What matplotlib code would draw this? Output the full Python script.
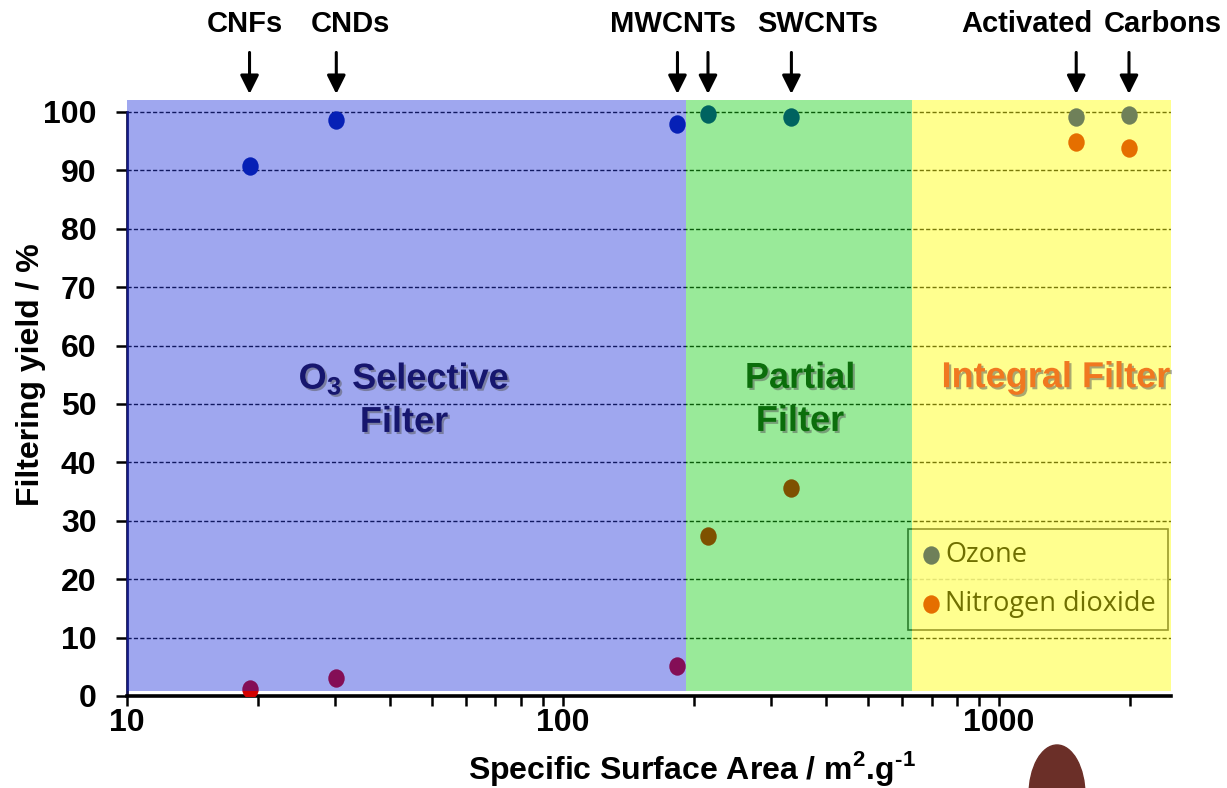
import matplotlib
matplotlib.use("Agg")
import matplotlib.pyplot as plt
import matplotlib.patheffects as pe
from matplotlib.markers import MarkerStyle
from matplotlib.transforms import Affine2D
from matplotlib.patches import Ellipse
from matplotlib.ticker import FixedLocator, LogLocator, NullFormatter

plt.rcParams['font.family'] = ['Liberation Sans', 'DejaVu Sans']
plt.rcParams['mathtext.fontset'] = 'custom'
plt.rcParams['mathtext.rm'] = 'Liberation Sans'
plt.rcParams['mathtext.bf'] = 'Liberation Sans:bold'

# ---- data ----
surface_area = [19.1, 30.2, 183, 215, 334, 1503, 1986]
ozone = [90.7, 98.6, 97.9, 99.7, 99.1, 99.2, 99.4]
no2 = [1.2, 3.1, 5.1, 27.4, 35.6, 94.8, 93.9]
series_names = ["Ozone", "Nitrogen dioxide"]

material_labels = ["CNFs", "CNDs", "MWCNTs", "SWCNTs", "Activated", "Carbons"]
material_label_x = [18.65, 32.5, 178.6, 384.6, 1159, 2377]

region_edges = [10, 191, 633, 2480]
region_names = [r"O$_\mathbf{3}$ Selective" + "\nFilter", "Partial\nFilter", "Integral Filter"]
region_label_x = [43.2, 349.6, 1351]

y_ticks = [0, 10, 20, 30, 40, 50, 60, 70, 80, 90, 100]
x_ticks = [10, 100, 1000]

# ---- styles ----
ozone_color = "#001ea0"
no2_color = "#d20000"
region_colors = ["#1125d9", "#00cb00", "#ffff00"]
region_alphas = [0.40, 0.40, 0.44]
region_text_colors = ["#16166e", "#0b6e0b", "#f07820"]
region_label_y = [50.7, 50.7, 54.5]

fig = plt.figure(figsize=(12.27, 7.88), dpi=100)
ax = fig.add_axes([0.1035, 0.1168, 0.8509, 0.7559])
ax.set_xscale('log')
ax.set_xlim(region_edges[0], region_edges[-1])
ax.set_ylim(0, 102)

mk = MarkerStyle('o', transform=Affine2D().scale(1.0, 1.12))
ax.scatter(surface_area, ozone, s=140, marker=mk, color=ozone_color,
           linewidths=0, zorder=3, label=series_names[0])
ax.scatter(surface_area, no2, s=140, marker=mk, color=no2_color,
           linewidths=0, zorder=3, label=series_names[1])

# grid
ax.set_yticks(y_ticks)
ax.grid(axis='y', color='#101010', linestyle=(0, (3, 1.6)), linewidth=1.0, zorder=0.5)
ax.set_axisbelow(True)

# legend (under the translucent overlays)
leg = ax.legend(loc='lower right', bbox_to_anchor=(0.997, 0.111), frameon=True,
                prop={'family': 'Open Sans', 'size': 19.5}, handletextpad=0.1,
                handlelength=0.8, labelspacing=0.75, borderpad=0.45,
                fancybox=False, borderaxespad=0, markerscale=1.0)
leg.get_frame().set_edgecolor('#202020')
leg.get_frame().set_linewidth(1.2)
leg.get_frame().set_facecolor('white')
for t in leg.get_texts():
    t.set_color('black')
leg.set_zorder(4)

# translucent regions on top
for i in range(3):
    ax.fill_between([region_edges[i], region_edges[i + 1]], 0.85, 102,
                    color=region_colors[i], alpha=region_alphas[i],
                    linewidth=0, zorder=6)

# region labels
shadow = [pe.withSimplePatchShadow(offset=(1.5, -1.5), shadow_rgbFace='#555555', alpha=0.5)]
for name, xx, yy, c in zip(region_names, region_label_x, region_label_y, region_text_colors):
    ax.text(xx, yy, name, ha='center', va='center', fontsize=26, fontweight='bold',
            color=c, linespacing=1.3, zorder=10, path_effects=shadow)

# arrows above the plot
trans = ax.get_xaxis_transform()
for xx in surface_area:
    ax.annotate('', xy=(xx, 1.006), xytext=(xx, 1.085), xycoords=trans, textcoords=trans,
                arrowprops=dict(arrowstyle='-|>', color='black', lw=2.2, mutation_scale=28),
                annotation_clip=False)
for lab, xx in zip(material_labels, material_label_x):
    ax.text(xx, 1.128, lab, transform=trans, ha='center', va='center', fontsize=21,
            fontweight='bold', color='black', clip_on=False)

# axes styling
for s in ['top', 'right']:
    ax.spines[s].set_visible(False)
ax.spines['left'].set_bounds(0, 100)
ax.spines['left'].set_color('#141450')
ax.spines['left'].set_linewidth(2.0)
ax.spines['bottom'].set_linewidth(2.6)
ax.spines['bottom'].set_color('black')

ax.xaxis.set_major_locator(FixedLocator(x_ticks))
ax.set_xticklabels([str(v) for v in x_ticks])
ax.xaxis.set_minor_locator(LogLocator(base=10, subs=range(2, 10)))
ax.xaxis.set_minor_formatter(NullFormatter())
ax.tick_params(axis='x', which='both', direction='out', length=7, width=1.8, pad=2,
               labelsize=23, color='black')
ax.tick_params(axis='y', which='both', direction='out', length=8, width=1.8, pad=14,
               labelsize=23, color='black')
for lbl in ax.get_xticklabels() + ax.get_yticklabels():
    lbl.set_fontweight('bold')

ax.set_xlabel("Specific Surface Area / m$^\\mathbf{2}$.g$^\\mathbf{\u2010 1}$", fontsize=23,
              fontweight='bold')
ax.xaxis.label.set_va('center')
ax.xaxis.set_label_coords(0.541, -0.121)
ax.set_ylabel("Filtering yield / %", fontsize=23, fontweight='bold')
ax.yaxis.label.set_va('center')
ax.yaxis.set_label_coords(-0.092, 0.539)

# stray brown object at the bottom edge of the picture
blob = Ellipse((1057 / 1227, 1 - 795 / 788), 56 / 1227, 100 / 788,
               transform=fig.transFigure, color='#6b2f28', zorder=20, clip_on=False)
fig.patches.append(blob)

fig.savefig("out.png", dpi=100)
